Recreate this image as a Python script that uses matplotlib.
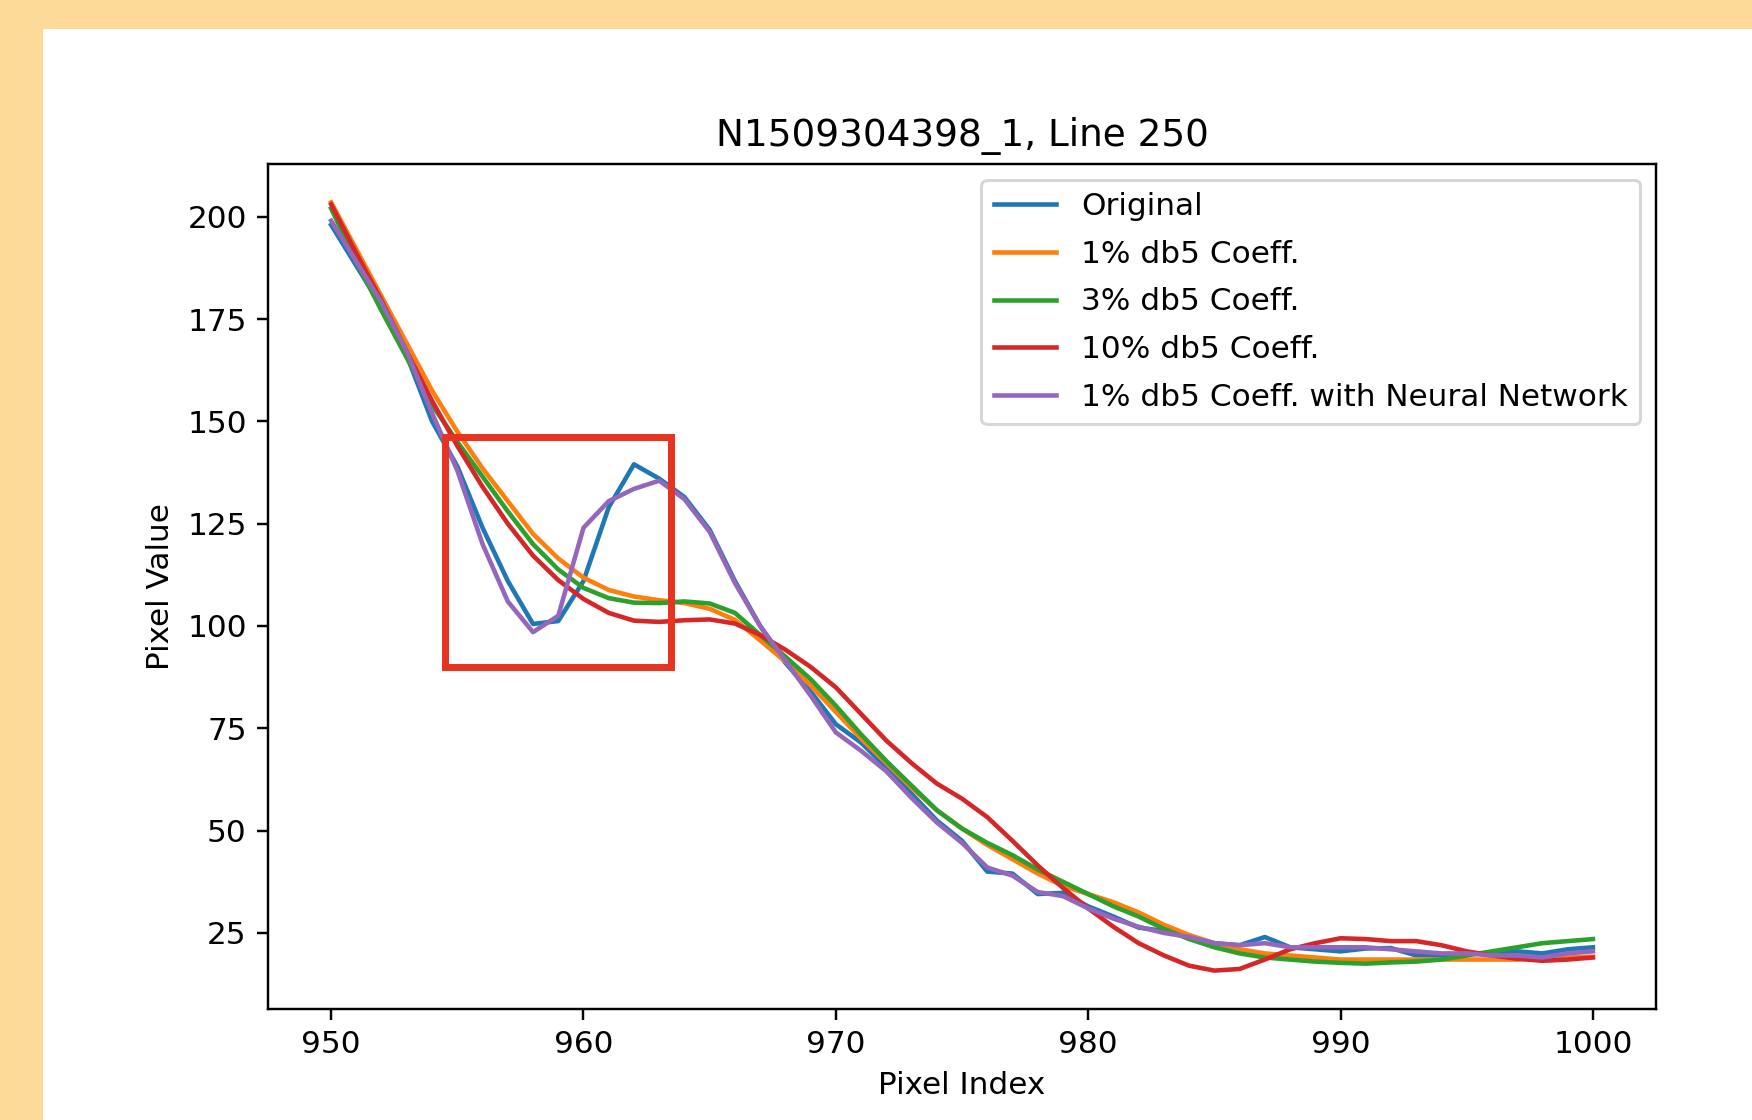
import matplotlib
matplotlib.use('Agg')
import matplotlib.pyplot as plt
from matplotlib.patches import Rectangle

# pixel positions along line 250
pixel_index = list(range(950, 1001))

original = [198, 188, 178, 166, 150, 139, 124, 111, 100.5, 101.2,
            111, 129, 139.5, 136, 131.5, 123.5, 111, 100, 91, 84,
            76, 71.5, 65.5, 59, 52.5, 47.5, 40, 39.5, 34.5, 34.8,
            31.5, 29, 26.3, 25.5, 24, 22.5, 22, 24, 21.5, 21,
            20.5, 21.2, 21.3, 19.5, 19.5, 20, 20, 20.5, 20, 21,
            21.5]
db5_1pct = [203.5, 192, 180.5, 169, 157.5, 147.5, 138.5, 130.5, 122.5, 116.5,
            111.8, 108.8, 107.2, 106.3, 105.6, 104.2, 101.5, 96.5, 91.3, 85.5,
            79, 72.5, 66.5, 60.5, 55, 50.5, 46.5, 43, 39.5, 36.5,
            34.5, 32.5, 30, 27, 24.5, 22.5, 21, 20, 19.5, 19,
            18.5, 18.5, 18.5, 18.5, 18.5, 18.5, 18.5, 18.5, 19, 19,
            19.2]
db5_3pct = [202, 189, 177, 165.5, 154, 145, 136.5, 128, 120, 113.8,
            109.3, 106.8, 105.7, 105.6, 106, 105.5, 103.2, 97.8, 92.5, 87,
            80.5, 73.5, 67, 61, 55, 50.5, 47, 44, 40.5, 37.5,
            34.5, 31.5, 29, 26, 23.5, 21.5, 20, 19, 18.5, 18,
            17.7, 17.5, 17.8, 18, 18.5, 19.5, 20.5, 21.5, 22.5, 23,
            23.5]
db5_10pct = [203, 191, 179.5, 167, 155, 144, 134, 125, 117.2, 111.2,
             106.6, 103.2, 101.3, 101, 101.4, 101.6, 100.6, 97.8, 94.2, 90,
             85, 78.5, 72, 66.5, 61.5, 57.8, 53.3, 47.5, 41.5, 36,
             31, 26.5, 22.5, 19.5, 17, 15.8, 16.2, 18.5, 21, 22.5,
             23.7, 23.5, 23, 23, 22, 20.5, 19.5, 18.7, 18.2, 18.5,
             19]
db5_1pct_nn = [199, 189, 179, 167, 152, 138, 120, 106, 98.5, 102.5,
               124, 130.5, 133.5, 135.5, 131, 123, 110.5, 100, 91.5, 83,
               74, 69.5, 64.5, 58, 52, 47, 41, 39, 35, 34,
               31, 28.5, 26.5, 25, 24, 22.5, 22, 22.5, 21.5, 21.5,
               21.5, 21.5, 21, 20.5, 20, 20, 19.5, 19.5, 19, 20,
               20.5]

labels = ['Original', '1% db5 Coeff.', '3% db5 Coeff.', '10% db5 Coeff.',
          '1% db5 Coeff. with Neural Network']

# highlighted region (x0, x1, y0, y1)
box_x = [954.5, 963.45]
box_y = [90, 146.2]

plt.rcParams['font.size'] = 10.25

fig = plt.figure(figsize=(8.0, 1120 / 219), dpi=219)
fig.patch.set_facecolor('white')

# yellow frame on the left and top of the screenshot
fig.patches.append(Rectangle((0, 0), 43 / 1752, 1, transform=fig.transFigure,
                             facecolor='#FEDA98', edgecolor='none', zorder=0))
fig.patches.append(Rectangle((0, 1 - 29 / 1120), 1, 29 / 1120, transform=fig.transFigure,
                             facecolor='#FEDA98', edgecolor='none', zorder=0))

ax = fig.add_axes([0.1530, 0.0991, 0.9452 - 0.1530, 0.8536 - 0.0991])

for series, lab in zip([original, db5_1pct, db5_3pct, db5_10pct, db5_1pct_nn], labels):
    ax.plot(pixel_index, series, label=lab)

ax.add_patch(Rectangle((box_x[0], box_y[0]), box_x[1] - box_x[0], box_y[1] - box_y[0],
                       fill=False, edgecolor='#E53420', linewidth=2.3, zorder=10))

ax.set_title('N1509304398_1, Line 250')
ax.set_xlabel('Pixel Index')
ax.set_ylabel('Pixel Value')
ax.legend(loc='upper right', labelspacing=0.6)

fig.savefig('out.png', dpi=219)
